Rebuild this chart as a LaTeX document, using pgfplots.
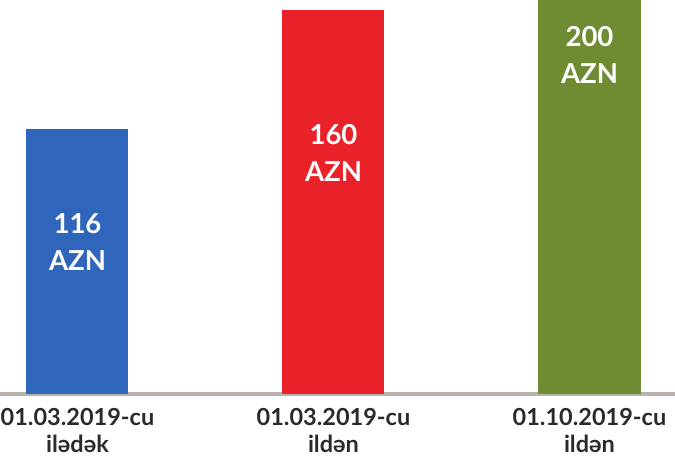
\documentclass[border=0pt]{standalone}
\usepackage{pgfplots}
\pgfplotsset{compat=1.18}
\usepackage{fontspec}
\setmainfont{Lato}
\definecolor{cblue}{HTML}{2F65BA}
\definecolor{cred}{HTML}{E82228}
\definecolor{cgreen}{HTML}{6F8C32}
\definecolor{cbase}{HTML}{B9B2AC}
\definecolor{ctext}{HTML}{2A2A2A}
\begin{document}
\begin{tikzpicture}
\useasboundingbox (0,0) rectangle (675pt,460pt);
\begin{axis}[
  at={(0pt,66pt)}, anchor=south west,
  scale only axis, width=675pt, height=394pt,
  xmin=-0.3027, xmax=2.334,
  ymin=17.5, ymax=163.7,
  axis y line=none,
  axis x line=bottom,
  x axis line style={draw=cbase, line width=3.5pt, -},
  xtick={0,1,2},
  xticklabels={{01.03.2019-cu\\ilədək},{01.03.2019-cu\\ildən},{01.10.2019-cu\\ildən}},
  xticklabel style={align=center, font=\fontsize{23.5}{27}\selectfont\bfseries, text=ctext, yshift=-11pt},
  major tick length=0pt,
  ybar, bar width=102pt, bar shift=0pt,
  clip=true,
]
\addplot[fill=cblue, draw=none] coordinates {(0,116)};
\addplot[fill=cred, draw=none] coordinates {(1,160)};
\addplot[fill=cgreen, draw=none] coordinates {(2,200)};
\node[text=white, align=center, font=\fontsize{27.5}{37}\selectfont\bfseries] at (axis cs:0,73.7) {116\\AZN};
\node[text=white, align=center, font=\fontsize{27.5}{37}\selectfont\bfseries] at (axis cs:1,106.8) {160\\AZN};
\node[text=white, align=center, font=\fontsize{27.5}{37}\selectfont\bfseries] at (axis cs:2,143.2) {200\\AZN};
\end{axis}
\end{tikzpicture}
\end{document}
